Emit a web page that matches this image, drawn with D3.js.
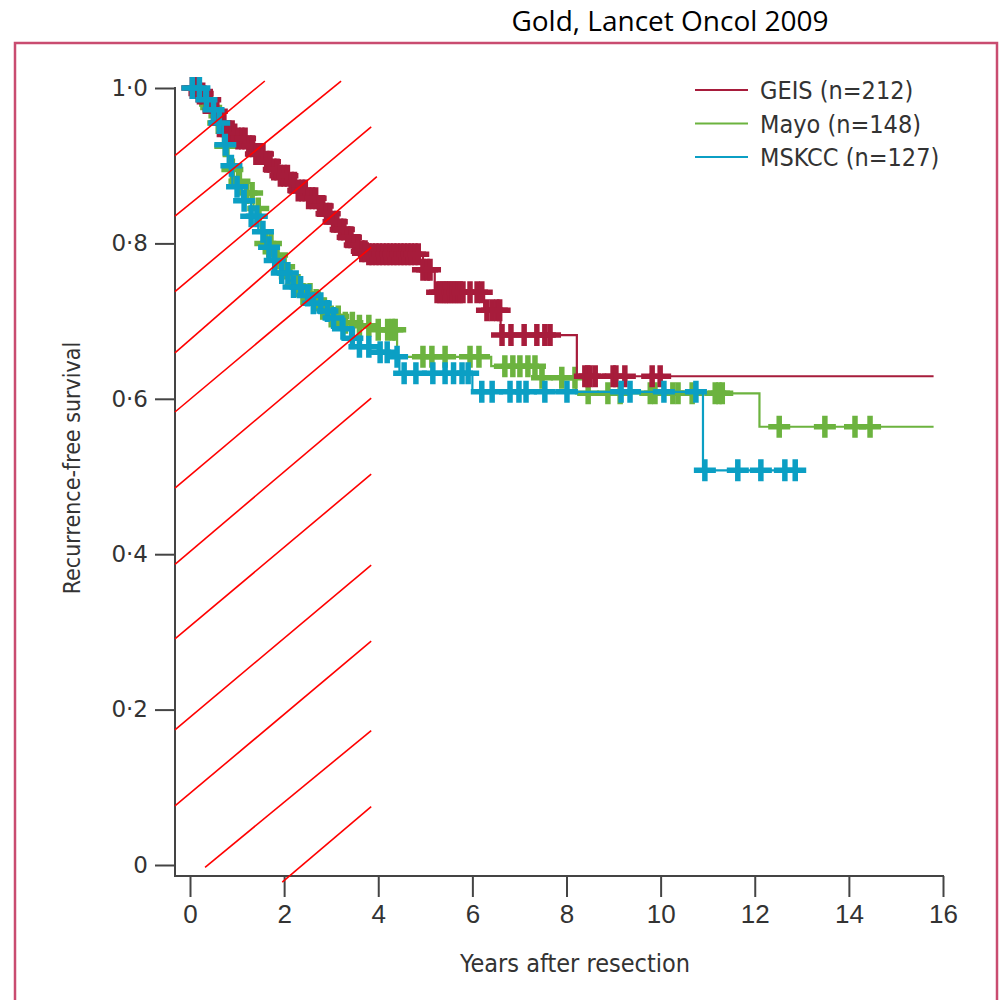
<!DOCTYPE html>
<html>
<head>
<meta charset="utf-8">
<script src="https://cdn.jsdelivr.net/npm/d3@7"></script>
<style>
	body { margin: 0; background: #fff; }
	.axis text { fill: #333; }
</style>
</head>
<body>
<div id="chart-area"></div>
<script>

// ---- data ----

// GEIS: step times (years) and survival after each step
let geisTimes = [0, 0.15, 0.3, 0.45, 0.6, 0.8, 1.0, 1.2, 1.4, 1.6, 1.75, 1.9, 2.1, 2.3, 2.5, 2.7, 2.9, 3.05, 3.2, 3.35, 3.5, 3.65, 3.8, 4.95, 5.2, 6.25, 6.6, 8.22];
let geisSurv  = [1.0, 0.993, 0.985, 0.97, 0.955, 0.94, 0.935, 0.925, 0.915, 0.905, 0.895, 0.887, 0.878, 0.868, 0.858, 0.848, 0.838, 0.828, 0.818, 0.808, 0.798, 0.79, 0.786, 0.766, 0.737, 0.714, 0.682, 0.629];
let geisEnd = 15.8;
let geisCensor = [0.05, 0.12, 0.2, 0.27, 0.35, 0.43, 0.5, 0.57, 0.65, 0.72, 0.8, 0.88, 0.95, 1.02, 1.1, 1.17, 1.25, 1.33, 1.4, 1.48, 1.55, 1.63, 1.7, 1.78, 1.85, 1.92, 2.0, 2.07, 2.15, 2.22, 2.3, 2.38, 2.45, 2.52, 2.6, 2.67, 2.75, 2.82, 2.9, 2.97, 3.05, 3.12, 3.2, 3.27, 3.35, 3.42, 3.5, 3.57, 3.65, 3.72, 3.8, 3.87, 3.95, 4.02, 4.1, 4.18, 4.25, 4.33, 4.4, 4.48, 4.55, 4.63, 4.7, 4.78, 4.85, 4.95, 5.04, 5.1, 5.25, 5.31, 5.37, 5.42, 5.47, 5.52, 5.58, 5.63, 5.69, 5.74, 5.8, 5.95, 6.1, 6.2, 6.31, 6.42, 6.52, 6.58, 6.63, 6.82, 7.1, 7.37, 7.54, 7.65, 8.39, 8.45, 8.5, 8.61, 8.99, 9.05, 9.24, 9.82, 9.99];

// Mayo
let mayoTimes = [0, 0.2, 0.4, 0.55, 0.7, 0.82, 1.0, 1.2, 1.35, 1.5, 1.6, 1.75, 1.9, 2.05, 2.2, 2.4, 2.6, 2.8, 3.0, 3.2, 3.6, 4.0, 4.4, 6.4, 7.45, 8.2, 12.1];
let mayoSurv  = [1.0, 0.99, 0.975, 0.955, 0.925, 0.895, 0.88, 0.865, 0.845, 0.815, 0.8, 0.785, 0.77, 0.757, 0.745, 0.735, 0.727, 0.716, 0.706, 0.698, 0.694, 0.689, 0.654, 0.642, 0.627, 0.607, 0.564];
let mayoEnd = 15.8;
let mayoCensor = [0.1, 0.25, 0.45, 0.6, 0.75, 0.9, 1.05, 1.2, 1.32, 1.45, 1.6, 1.72, 1.85, 2.0, 2.12, 2.25, 2.4, 2.55, 2.68, 2.82, 3.0, 3.15, 3.3, 3.45, 3.6, 3.8, 4.0, 4.2, 4.3, 4.36, 4.95, 5.14, 5.42, 5.95, 6.14, 6.69, 6.86, 7.01, 7.18, 7.33, 7.48, 7.9, 8.18, 8.46, 8.88, 9.14, 9.78, 9.88, 10.26, 10.37, 10.67, 11.16, 11.24, 11.31, 12.52, 13.49, 14.13, 14.45];

// MSKCC
let mskccTimes = [0, 0.3, 0.5, 0.6, 0.7, 0.8, 0.9, 1.1, 1.3, 1.45, 1.6, 1.8, 1.95, 2.1, 2.2, 2.4, 2.55, 2.8, 2.95, 3.2, 3.4, 3.6, 4.0, 4.3, 4.45, 6.0, 10.9];
let mskccSurv  = [1.0, 0.985, 0.972, 0.955, 0.927, 0.9, 0.873, 0.855, 0.835, 0.815, 0.795, 0.778, 0.762, 0.752, 0.744, 0.733, 0.723, 0.713, 0.704, 0.69, 0.678, 0.667, 0.66, 0.654, 0.633, 0.609, 0.508];
let mskccEnd = 13.0;
let mskccCensor = [0.05, 0.2, 0.35, 0.5, 0.62, 0.75, 0.88, 1.0, 1.15, 1.3, 1.42, 1.55, 1.68, 1.8, 1.95, 2.08, 2.2, 2.35, 2.5, 2.62, 2.78, 2.92, 3.05, 3.25, 3.45, 3.6, 3.8, 4.04, 4.19, 4.4, 4.55, 4.8, 5.16, 5.42, 5.6, 5.78, 5.91, 6.2, 6.42, 6.8, 6.99, 7.14, 7.54, 8.01, 9.16, 9.35, 10.07, 10.75, 10.94, 11.64, 12.13, 12.64, 12.86];

let seriesNames = ["GEIS (n=212)", "Mayo (n=148)", "MSKCC (n=127)"];
let seriesColors = ["#a71c3b", "#6cb33f", "#0b9fc4"];

// tick labels
let xTicks = [0, 2, 4, 6, 8, 10, 12, 14, 16];
let yTicks = [0, 0.2, 0.4, 0.6, 0.8, 1.0];

// hand-drawn red hatching over the first years: [x1, y1, x2, y2] in data units
let hatchLines = [
	[-0.32, 0.913, 1.59, 1.009],
	[-0.32, 0.835, 3.21, 1.009],
	[-0.32, 0.738, 3.85, 0.950],
	[-0.32, 0.659, 3.97, 0.886],
	[-0.32, 0.583, 3.85, 0.795],
	[-0.32, 0.485, 3.85, 0.698],
	[-0.32, 0.387, 3.85, 0.601],
	[-0.32, 0.291, 3.85, 0.503],
	[-0.32, 0.174, 3.85, 0.386],
	[-0.32, 0.076, 3.85, 0.288],
	[0.32, -0.003, 3.85, 0.173],
	[1.96, -0.022, 3.85, 0.075]
];


drawChart();

function drawChart(){

	let svg = d3.select("#chart-area").append("svg")
		.attr("width", 1000)
		.attr("height", 1000)
		.style("font-family", "'DejaVu Sans Condensed', 'Liberation Sans', sans-serif");

	// pink frame (runs off the bottom of the picture)
	svg.append("rect")
		.attr("x", 15)
		.attr("y", 43)
		.attr("width", 982)
		.attr("height", 980)
		.attr("fill", "none")
		.attr("stroke", "#c94c70")
		.attr("stroke-width", 2.5);

	// source note
	svg.append("text")
		.attr("x", 670)
		.attr("y", 31)
		.attr("text-anchor", "middle")
		.style("font-family", "'Open Sans', sans-serif")
		.style("font-size", "28px")
		.style("fill", "#000")
		.text("Gold, Lancet Oncol 2009");

	// scales
	let x = d3.scaleLinear().domain([0, 16]).range([190, 943]);
	let y = d3.scaleLinear().domain([0, 1]).range([865, 88]);

	let axisColor = "#444";
	let xAxisY = 876;

	// Y axis
	let yAxis = d3.axisLeft(y)
		.tickValues(yTicks)
		.tickSize(20)
		.tickPadding(7)
		.tickFormat(d => d === 0 ? "0" : d.toFixed(1).replace(".", "\u00B7"));

	let gy = svg.append("g")
		.attr("class", "y axis")
		.attr("transform", "translate(175,0)")
		.call(yAxis);
	gy.select(".domain").remove();
	gy.selectAll("line").attr("stroke", axisColor).attr("stroke-width", 2);
	gy.selectAll("text")
		.style("font-family", "'DejaVu Sans', sans-serif")
		.style("font-size", "23px");

	gy.append("line")
		.attr("x1", 0).attr("x2", 0)
		.attr("y1", y(1) - 1).attr("y2", xAxisY + 1)
		.attr("stroke", axisColor).attr("stroke-width", 2);

	// X axis
	let xAxis = d3.axisBottom(x)
		.tickValues(xTicks)
		.tickSize(21)
		.tickPadding(8)
		.tickFormat(d3.format("d"));

	let gx = svg.append("g")
		.attr("class", "x axis")
		.attr("transform", "translate(0," + xAxisY + ")")
		.call(xAxis);
	gx.select(".domain").remove();
	gx.selectAll("line").attr("stroke", axisColor).attr("stroke-width", 2);
	gx.selectAll("text").style("font-size", "26px");

	gx.append("line")
		.attr("x1", 175).attr("x2", x(16) + 1)
		.attr("y1", 0).attr("y2", 0)
		.attr("stroke", axisColor).attr("stroke-width", 2);

	// axis titles
	svg.append("text")
		.attr("x", 575)
		.attr("y", 972)
		.attr("text-anchor", "middle")
		.style("font-size", "25px")
		.style("fill", "#333")
		.text("Years after resection");

	svg.append("text")
		.attr("transform", "translate(80,468) rotate(-90)")
		.attr("text-anchor", "middle")
		.style("font-size", "23px")
		.style("fill", "#333")
		.text("Recurrence-free survival");

	// curves
	let series = [
		{times: geisTimes, surv: geisSurv, end: geisEnd, censor: geisCensor, color: seriesColors[0]},
		{times: mayoTimes, surv: mayoSurv, end: mayoEnd, censor: mayoCensor, color: seriesColors[1]},
		{times: mskccTimes, surv: mskccSurv, end: mskccEnd, censor: mskccCensor, color: seriesColors[2]}
	];

	let stepLine = d3.line()
		.x(d => x(d[0]))
		.y(d => y(d[1]))
		.curve(d3.curveStepAfter);

	function survAt(s, t){
		let i = d3.bisectRight(s.times, t) - 1;
		return s.surv[Math.max(i, 0)];
	}

	// draw order: Mayo, GEIS, MSKCC
	[1, 0, 2].forEach(k => {
		let s = series[k];
		let pts = s.times.map((t, i) => [t, s.surv[i]]);
		pts.push([s.end, s.surv[s.surv.length - 1]]);

		let g = svg.append("g").attr("class", "km");

		g.append("path")
			.attr("d", stepLine(pts))
			.attr("fill", "none")
			.attr("stroke", s.color)
			.attr("stroke-width", 2.2);

		g.selectAll(".censor")
			.data(s.censor)
			.enter()
			.append("path")
			.attr("class", "censor")
			.attr("transform", t => "translate(" + x(t) + "," + y(survAt(s, t)) + ")")
			.attr("d", "M-11,0H11M0,-11V11")
			.attr("fill", "none")
			.attr("stroke", s.color)
			.attr("stroke-width", 5.5);
	});

	// legend
	let legend = svg.append("g").attr("class", "legend");
	seriesNames.forEach((name, i) => {
		let ly = 90 + i * 33.5;
		legend.append("line")
			.attr("x1", 695).attr("x2", 748)
			.attr("y1", ly).attr("y2", ly)
			.attr("stroke", seriesColors[i])
			.attr("stroke-width", 2.2);
		legend.append("text")
			.attr("x", 760)
			.attr("y", ly + 9)
			.style("font-size", "25px")
			.style("fill", "#333")
			.text(name);
	});

	// red hatching on top
	svg.append("g").attr("class", "hatch")
		.selectAll("line")
		.data(hatchLines)
		.enter()
		.append("line")
		.attr("x1", d => x(d[0]))
		.attr("y1", d => y(d[1]))
		.attr("x2", d => x(d[2]))
		.attr("y2", d => y(d[3]))
		.attr("stroke", "#ff0000")
		.attr("stroke-width", 1.6);
}
</script>
</body>
</html>
